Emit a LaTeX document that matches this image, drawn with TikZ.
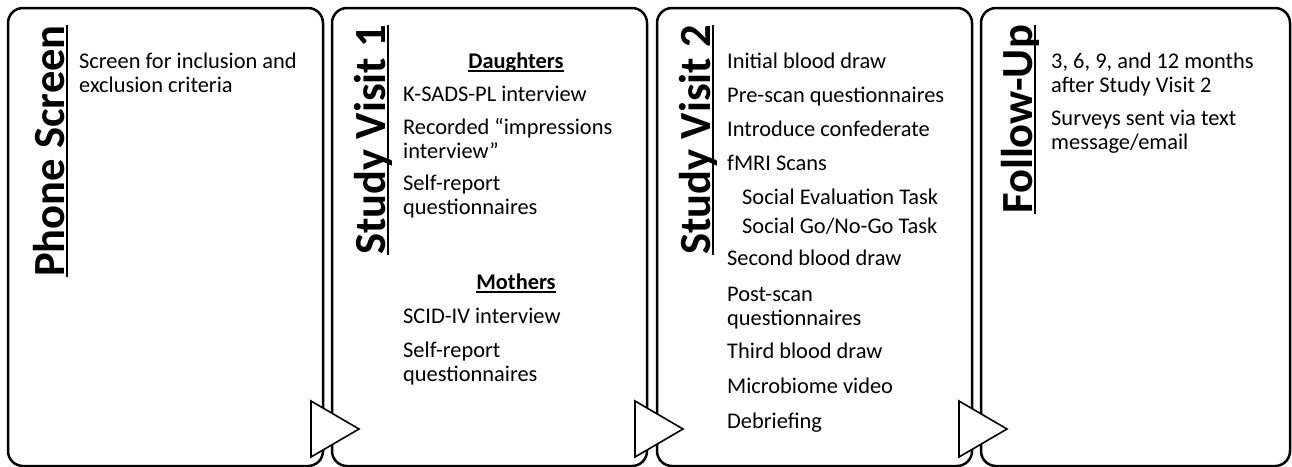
\documentclass[tikz,border=0pt]{standalone}
\usepackage{fontspec}
\setmainfont{Carlito}
\begin{document}
\begin{tikzpicture}[x=1pt,y=-1pt,
  panel/.style={draw, line width=2.5pt, rounded corners=15pt, anchor=north west, outer sep=0pt, inner sep=0pt, minimum height=458pt},
  ttl/.style={font=\fontsize{44.5}{48}\selectfont\bfseries, rotate=90, anchor=base east, inner sep=0pt},
  itm/.style={font=\fontsize{22.4}{24}\selectfont, anchor=base west, inner sep=0pt},
  hdr/.style={font=\fontsize{22.4}{24}\selectfont\bfseries, anchor=base, inner sep=0pt},
  uline/.style={line width=2.4pt},
  hline/.style={line width=1.8pt},
  arr/.style={draw, fill=white, line width=1.6pt, line join=miter}]
\useasboundingbox (0,0) rectangle (1292,466);
\newcommand{\twol}[2]{\vtop{\hbox{#1}\hbox{#2}}}

% panels
\node[panel, minimum width=315pt] (p1) at (8,8) {};
\node[panel, minimum width=315pt] (p2) at (332,8) {};
\node[panel, minimum width=315pt] (p3) at (657,8) {};
\node[panel, minimum width=309pt] (p4) at (981,8) {};

% titles
\node[ttl] (t1) at (64,25) {Phone Screen};
\node[ttl] (t2) at (385,25) {Study Visit 1};
\node[ttl] (t3) at (710,25) {Study Visit 2};
\node[ttl] (t4) at (1032,25) {Follow-Up};
\foreach \t in {t1,t2,t3,t4}
  \draw[uline] ([xshift=3pt]\t.base west) -- ([xshift=3pt]\t.base east);

% panel 1
\node[itm] (a1) at (79,68) {\twol{Screen for inclusion and}{exclusion criteria}};

% panel 2
\node[hdr] (dau) at (516,68) {Daughters};
\draw[hline] ([yshift=-3pt]dau.base west) -- ([yshift=-3pt]dau.base east);
\node[itm] (b1) at (403,101) {K-SADS-PL interview};
\node[itm] (b2) at (403,134) {\twol{Recorded “impressions}{interview”}};
\node[itm] (b3) at (403,190) {\twol{Self-report}{questionnaires}};
\node[hdr] (mot) at (516,289) {Mothers};
\draw[hline] ([yshift=-3pt]mot.base west) -- ([yshift=-3pt]mot.base east);
\node[itm] (b4) at (403,323) {SCID-IV interview};
\node[itm] (b5) at (403,357) {\twol{Self-report}{questionnaires}};

% panel 3
\node[itm] (c1) at (727,68) {Initial blood draw};
\node[itm] (c2) at (727,102) {Pre-scan questionnaires};
\node[itm] (c3) at (727,136) {Introduce confederate};
\node[itm] (c4) at (727,170) {fMRI Scans};
\node[itm] (c5) at (742,204) {Social Evaluation Task};
\node[itm] (c6) at (742,233) {Social Go/No-Go Task};
\node[itm] (c7) at (727,265) {Second blood draw};
\node[itm] (c8) at (727,301) {\twol{Post-scan}{questionnaires}};
\node[itm] (c9) at (727,358) {Third blood draw};
\node[itm] (c10) at (727,393) {Microbiome video};
\node[itm] (c11) at (727,428) {Debriefing};

% panel 4
\node[itm] (d1) at (1051,68) {\twol{3, 6, 9, and 12 months}{after Study Visit 2}};
\node[itm] (d2) at (1051,125) {\twol{Surveys sent via text}{message/email}};

% arrows between panels
\draw[arr] ([shift={(-12,-65)}]p1.south east) -- ++(48,28) -- ++(-48,28) -- cycle;
\draw[arr] ([shift={(-12,-65)}]p2.south east) -- ++(48,28) -- ++(-48,28) -- cycle;
\draw[arr] ([shift={(-13,-65)}]p3.south east) -- ++(48,28) -- ++(-48,28) -- cycle;
\end{tikzpicture}
\end{document}
